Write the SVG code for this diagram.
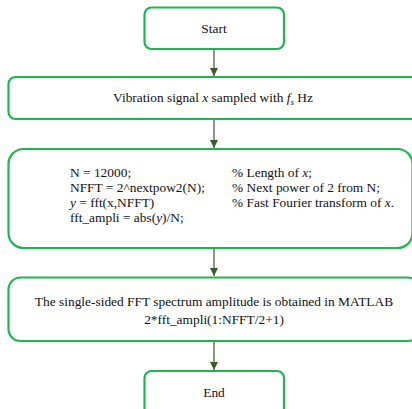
<svg xmlns="http://www.w3.org/2000/svg" width="412" height="409" viewBox="0 0 412 409">
<defs>
<style>
.box{fill:#fff;stroke:#1db650;stroke-width:2.2}
.t{font-family:"Liberation Serif","Times New Roman",serif;font-size:13.4px;fill:#111}
.c{text-anchor:middle}
.i{font-style:italic}
.ln{stroke:#3c5a28;stroke-width:1.2;fill:none}
</style>
<marker id="ah" markerWidth="10" markerHeight="10" refX="8" refY="4" orient="auto" markerUnits="userSpaceOnUse">
<path d="M0,0 L8,4 L0,8 Z" fill="#3c5a28"/>
</marker>
</defs>
<rect width="412" height="409" fill="#fff"/>
<g id="connectors">
<line class="ln" x1="214" y1="49" x2="214" y2="76" marker-end="url(#ah)"/>
<line class="ln" x1="214" y1="120" x2="214" y2="148" marker-end="url(#ah)"/>
<line class="ln" x1="214" y1="248" x2="214" y2="276" marker-end="url(#ah)"/>
<line class="ln" x1="214" y1="341" x2="214" y2="370" marker-end="url(#ah)"/>
</g>
<g id="start">
<rect class="box" x="144.5" y="7.5" width="139.5" height="41.5" rx="7"/>
<text class="t c" x="214" y="33">Start</text>
</g>
<g id="signal">
<rect class="box" x="8.5" y="77" width="411" height="42" rx="7"/>
<text class="t c" x="213" y="102">Vibration signal <tspan class="i">x</tspan> sampled with <tspan class="i">f</tspan><tspan class="i" font-size="9" dy="3">s</tspan><tspan dy="-3"> Hz</tspan></text>
</g>
<g id="code">
<rect class="box" x="8.5" y="149" width="404" height="99" rx="15"/>
<text class="t" x="70" y="177">N = 12000;</text>
<text class="t" x="70" y="192">NFFT = 2^nextpow2(N);</text>
<text class="t" x="70" y="207"><tspan class="i">y</tspan> = fft(x,NFFT)</text>
<text class="t" x="70" y="222">fft_ampli = abs(<tspan class="i">y</tspan>)/N;</text>
<text class="t" x="232" y="177">% Length of <tspan class="i">x</tspan>;</text>
<text class="t" x="232" y="192">% Next power of 2 from N;</text>
<text class="t" x="232" y="207">% Fast Fourier transform of <tspan class="i">x</tspan>.</text>
</g>
<g id="spectrum">
<rect class="box" x="8.5" y="277.5" width="411" height="63.5" rx="12"/>
<text class="t c" x="214" y="306">The single-sided FFT spectrum amplitude is obtained in MATLAB</text>
<text class="t c" x="214" y="324">2*fft_ampli(1:NFFT/2+1)</text>
</g>
<g id="end">
<rect class="box" x="144.5" y="371" width="139.5" height="44" rx="7"/>
<text class="t c" x="214" y="397">End</text>
</g>
</svg>
